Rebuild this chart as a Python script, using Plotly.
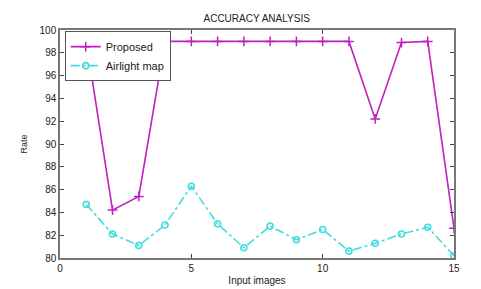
import plotly.graph_objects as go

x_vals = list(range(1, 16))
proposed = [99.0, 84.2, 85.4, 99.0, 99.0, 99.0, 99.0, 99.0, 99.0, 99.0, 99.0, 92.2, 98.9, 99.0, 82.6]
airlight = [84.7, 82.1, 81.1, 82.9, 86.3, 83.0, 80.9, 82.8, 81.6, 82.5, 80.6, 81.3, 82.1, 82.7, 80.2]
x_ticks = [0, 5, 10, 15]
y_ticks = list(range(80, 101, 2))

FAM = "Liberation Sans, Arial, sans-serif"
font = dict(family=FAM, size=10, color="#222")

fig = go.Figure()
fig.add_trace(go.Scatter(
    x=x_vals, y=proposed, name="Proposed", mode="lines+markers",
    line=dict(color="#c020c0", width=1.6),
    marker=dict(symbol="cross-thin", size=7, line=dict(color="#c020c0", width=1.5)),
))
fig.add_trace(go.Scatter(
    x=x_vals, y=airlight, name="Airlight map", mode="lines+markers",
    line=dict(color="#40dede", width=1.6, dash="dashdot"),
    marker=dict(symbol="circle-open", size=6, color="#40dede", line=dict(color="#40dede", width=1.6)),
))

axis_common = dict(
    showgrid=False, zeroline=False, showline=True, mirror="ticks",
    linecolor="#777", linewidth=1.5, ticks="inside", ticklen=4, tickcolor="#444",
    tickfont=font,
)
fig.update_layout(
    width=481, height=289,
    margin=dict(l=52, r=35, t=22, b=31),
    paper_bgcolor="white", plot_bgcolor="white",
    font=font,
    title=dict(text="ACCURACY ANALYSIS", x=0.517, xanchor="center", y=0.975, yanchor="top",
               font=dict(family=FAM, size=10, color="#222")),
    xaxis=dict(range=[0, 15], tickvals=x_ticks, title=dict(text="Input images", standoff=4, font=font), **axis_common),
    yaxis=dict(range=[80, 100], tickvals=y_ticks, title=dict(text="Rate", standoff=10, font=dict(family=FAM, size=9, color="#222")), **axis_common),
    legend=dict(x=0.012, y=0.995, xanchor="left", yanchor="top", bgcolor="white",
                bordercolor="#555", borderwidth=1, font=dict(family=FAM, size=11, color="#222"),
                tracegroupgap=0, itemwidth=30),
    showlegend=True,
)
fig.write_html("out.html")
